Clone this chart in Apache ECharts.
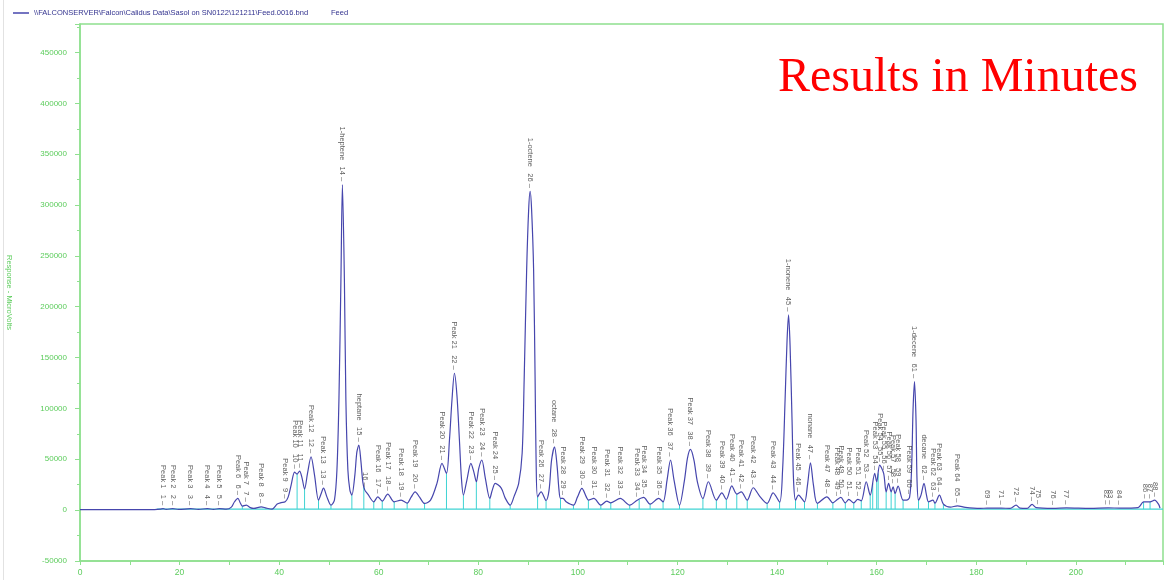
<!DOCTYPE html>
<html>
<head>
<meta charset="utf-8">
<style>
  html, body { margin: 0; padding: 0; background: #fff; }
  #chart { width: 1167px; height: 580px; }
</style>
</head>
<body>
<div id="chart"></div>
<script src="https://cdn.jsdelivr.net/npm/echarts@6.0.0/dist/echarts.min.js"></script>
<script>
const traceName = '\\\\FALCONSERVER\\Falcon\\Calidus Data\\Sasol on SN0122\\121211\\Feed.0016.bnd'
const sampleName = 'Feed'
const chartTitle = 'Results in Minutes'
const yAxisName = 'Response - MicroVolts'

// detector trace (minutes, microvolts)
const traceTimes = [
  0, 14.1, 16.1, 16.7, 17.3, 18.6, 19.8, 22.2, 23.8, 25.6,
  26.8, 28.0, 29.4, 30.4, 31.0, 31.7, 32.2, 32.6, 33.4, 34.2,
  34.9, 36.4, 37.4, 38.6, 39.6, 40.4, 41.2, 41.8, 42.4, 43.1,
  43.6, 44.1, 44.6, 45.1, 45.7, 46.4, 47.1, 47.9, 48.4, 48.9,
  49.6, 50.4, 51.1, 51.6, 52.0, 52.4, 52.7, 53.1, 53.4, 53.8,
  54.2, 54.6, 55.2, 55.6, 56.0, 56.4, 56.8, 57.2, 57.8, 59.0,
  59.8, 60.7, 61.8, 63.1, 64.5, 65.7, 66.5, 67.3, 68.2, 69.2,
  70.4, 71.7, 72.7, 73.6, 74.2, 74.7, 75.2, 75.7, 76.2, 76.6,
  77.0, 77.7, 78.5, 79.1, 79.6, 80.1, 80.7, 81.4, 82.3, 82.8,
  83.4, 84.6, 85.4, 86.4, 87.2, 88.1, 88.8, 89.2, 89.7, 90.1,
  90.4, 90.7, 91.1, 91.4, 91.6, 91.9, 92.6, 93.6, 94.2, 94.7,
  95.3, 95.8, 96.2, 96.5, 97.0, 97.7, 99.1, 99.9, 100.8, 101.7,
  102.1, 103.2, 104.6, 105.8, 106.6, 108.5, 110.4, 111.9, 113.2, 114.5,
  116.2, 117.1, 117.9, 118.6, 119.3, 120.4, 121.4, 122.0, 122.6, 123.3,
  124.0, 125.1, 126.2, 127.8, 128.9, 129.8, 130.9, 131.9, 132.8, 134.0,
  135.2, 136.6, 138.0, 139.2, 140.5, 141.1, 141.6, 142.0, 142.3, 142.6,
  143.0, 143.3, 143.7, 144.3, 145.5, 146.1, 146.7, 147.3, 148.1, 150.0,
  151.2, 152.1, 152.8, 153.7, 154.4, 155.4, 156.2, 156.9, 157.9, 158.7,
  159.6, 160.0, 160.6, 161.4, 161.9, 162.4, 162.9, 163.3, 163.7, 164.3,
  165.3, 166.0, 166.6, 167.0, 167.3, 167.6, 167.9, 168.1, 168.4, 168.9,
  169.5, 170.0, 170.4, 171.3, 171.7, 172.6, 173.4, 174.8, 176.2, 177.8,
  180.8, 182.2, 185.0, 186.8, 188.0, 188.8, 190.2, 191.2, 192.0, 195.4,
  198.1, 202.9, 206.5, 208.9, 212.5, 213.6, 214.9, 215.8, 216.6, 216.9
]
const traceValues = [
  500, 500, 1000, 1500, 700, 1500, 700, 1500, 800, 1500,
  800, 1500, 1000, 3000, 8000, 11500, 7000, 4000, 5000, 2500,
  1700, 3300, 2000, 1000, 6000, 7400, 8200, 12800, 24600, 37400,
  35500, 38400, 31500, 20700, 36400, 52500, 34500, 9800, 15800, 21700,
  12800, 4900, 9800, 39400, 108000, 226000, 320000, 226000, 108000, 39400,
  19700, 14800, 34500, 57000, 64000, 49000, 27600, 19700, 15800, 8200,
  13100, 8900, 15800, 8200, 9800, 6900, 12800, 18000, 12800, 6600,
  9800, 26600, 46000, 36100, 69000, 108000, 134600, 113000, 69000, 31500,
  14800, 29600, 46000, 37400, 27900, 41400, 49300, 31500, 11500, 19700,
  26300, 21700, 11800, 4900, 13800, 26300, 56100, 128000, 236000, 295000,
  313500, 295000, 236000, 128000, 49000, 13100, 18000, 9500, 19700, 49000,
  62300, 44300, 19700, 11500, 11500, 7900, 4900, 12800, 21400, 12800,
  9800, 11500, 4900, 8900, 7200, 11500, 4900, 9800, 12500, 5900,
  11500, 8200, 29600, 49300, 29600, 4900, 29600, 51200, 59800, 49300,
  27600, 11500, 27900, 9800, 17000, 10500, 23900, 15800, 18000, 9800,
  22000, 13100, 6600, 17000, 7800, 39400, 108000, 167000, 192000, 162500,
  88700, 29600, 9800, 14800, 8200, 24600, 46600, 24600, 6600, 13100,
  7200, 10500, 12500, 7200, 10500, 7200, 10500, 9200, 27900, 14800,
  36100, 27900, 44300, 36100, 18000, 26300, 18000, 23000, 16400, 23600,
  9800, 9800, 12500, 39400, 98500, 126400, 88700, 29600, 9800, 14800,
  26300, 14800, 8200, 9800, 6900, 14800, 5900, 3000, 4200, 2700,
  1700, 2000, 2000, 1700, 4900, 2000, 1700, 5600, 2500, 1700,
  2200, 1700, 2200, 2000, 2500, 8200, 8200, 9800, 5900, 2000
]

// peak annotations
const peakNumbers = [
  1, 2, 3, 4, 5, 6, 7, 8, 9, 10, 11, 12, 13, 14, 15, 16, 17, 18, 19, 20,
  21, 22, 23, 24, 25, 26, 27, 28, 29, 30, 31, 32, 33, 34, 35, 36, 37, 38, 39, 40,
  41, 42, 43, 44, 45, 46, 47, 48, 49, 50, 51, 52, 53, 54, 55, 56, 57, 58, 59, 60,
  61, 62, 63, 64, 65, 69, 71, 72, 74, 75, 76, 77, 82, 83, 84, 86, 87, 88
]
const peakNames = [
  'Peak 1', 'Peak 2', 'Peak 3', 'Peak 4', 'Peak 5', 'Peak 6', 'Peak 7', 'Peak 8', 'Peak 9', 'Peak 10',
  'Peak 11', 'Peak 12', 'Peak 13', '1-heptene', 'heptane', '', 'Peak 16', 'Peak 17', 'Peak 18', 'Peak 19',
  'Peak 20', 'Peak 21', 'Peak 22', 'Peak 23', 'Peak 24', '1-octene', 'Peak 26', 'octane', 'Peak 28', 'Peak 29',
  'Peak 30', 'Peak 31', 'Peak 32', 'Peak 33', 'Peak 34', 'Peak 35', 'Peak 36', 'Peak 37', 'Peak 38', 'Peak 39',
  'Peak 40', 'Peak 41', 'Peak 42', 'Peak 43', '1-nonene', 'Peak 45', 'nonane', 'Peak 47', 'Peak 48', 'Peak 49',
  'Peak 50', 'Peak 51', 'Peak 52', 'Peak 53', 'Peak 54', 'Peak 55', 'Peak 56', 'Peak 57', 'Peak 58', 'Peak 59',
  '1-decene', 'decane', 'Peak 62', 'Peak 63', 'Peak 64', '', '', '', '', '', '', '', '', '', '', '', '', ''
]
const peakTimes = [
  16.7, 18.6, 22.2, 25.6, 28.0, 31.7, 33.4, 36.4, 41.2, 43.1, 44.1, 46.4, 48.9, 52.7, 56.0, 57.2, 59.8, 61.8, 64.5, 67.3,
  72.7, 75.2, 78.5, 80.7, 83.4, 90.4, 92.6, 95.3, 97.0, 100.8, 103.2, 105.8, 108.5, 111.9, 113.2, 116.2, 118.6, 122.6, 126.2, 128.9,
  130.9, 132.8, 135.2, 139.2, 142.3, 144.3, 146.7, 150.0, 152.1, 152.8, 154.4, 156.2, 157.9, 159.6, 160.6, 161.4, 162.4, 163.3, 164.3, 166.6,
  167.6, 169.5, 171.3, 172.6, 176.2, 182.2, 185.0, 188.0, 191.2, 192.4, 195.4, 198.1, 206.1, 206.9, 208.7, 213.9, 214.9, 216.0
]
const peakValues = [
  1500, 1500, 1500, 1500, 1500, 11500, 5000, 3300, 8200, 37400, 38400, 52500, 21700, 320000, 64000, 19700, 13100, 15800, 9800, 18000,
  46000, 134600, 46000, 49300, 26300, 313500, 18000, 62300, 11500, 21400, 11500, 8900, 11500, 9800, 12500, 11500, 49300, 59800, 27900, 17000,
  23900, 18000, 22000, 17000, 192000, 14800, 46600, 13100, 10500, 12500, 10500, 10500, 27900, 36100, 44300, 36100, 26300, 23000, 23600, 12500,
  126400, 26300, 9800, 14800, 4200, 2000, 2000, 4900, 5600, 2500, 1700, 2200, 2200, 2200, 2000, 8200, 8200, 9800
]

// integration drop lines and baseline
const dropTimes = [
  32.6, 34.9, 38.6, 43.6, 45.1, 47.9, 50.4, 54.6, 57.0, 59.0, 60.7, 63.1, 65.7, 69.2,
  73.6, 77.0, 79.6, 82.3, 86.4, 91.9, 93.6, 96.5, 99.1, 102.1, 104.6, 106.6, 110.4, 112.3,
  114.5, 117.1, 120.4, 125.1, 127.8, 129.8, 131.9, 134.0, 138.0, 140.5, 143.7, 145.5, 148.1,
  151.2, 153.7, 155.4, 156.9, 158.7, 159.2, 160.0, 160.3, 161.9, 162.9, 163.7, 165.3, 168.4,
  170.4, 171.7, 173.4, 213.6, 214.9
]
const dropValues = [
  4000, 1700, 1000, 35500, 20700, 9800, 4900, 14800, 23000, 8200, 8900, 8200, 6900, 6600,
  36100, 14800, 27900, 11500, 4900, 13100, 9500, 11500, 4900, 9800, 4900, 7200, 4900, 10500,
  5900, 8200, 4900, 11500, 9800, 10500, 15800, 9800, 6600, 7800, 9800, 8200, 6600,
  7200, 7200, 7200, 9200, 14800, 26000, 27900, 36000, 18000, 18000, 16400, 9800, 9800,
  8200, 6900, 5900, 8200, 8200
]
const baselineLevel = 1000
const baselineTimes = [15.4, 217.5]

const green = '#8fe08f'
const labelGreen = '#5ccc5c'

const chart = echarts.init(document.getElementById('chart'))

chart.setOption({
  animation: false,
  backgroundColor: '#fff',
  textStyle: { fontFamily: 'Liberation Sans, Arial, sans-serif' },
  legend: {
    data: [traceName],
    left: 13, top: 9, padding: 0,
    icon: 'rect', itemWidth: 16, itemHeight: 1.5, itemGap: 5,
    textStyle: { fontSize: 7.5, color: '#33338f' },
    formatter: name => name + '           ' + sampleName,
  },
  graphic: [
    {
      type: 'text', left: 778, top: 54,
      style: { text: chartTitle, fill: '#ff0000', font: '48px "Liberation Serif", "Times New Roman", serif' },
    },
    {
      type: 'line', shape: { x1: 3.5, y1: 0, x2: 3.5, y2: 580 },
      style: { stroke: '#e2e2e2', lineWidth: 1 },
    },
  ],
  grid: {
    left: 80, right: 4, top: 24, bottom: 19,
    outerBoundsMode: 'none', containLabel: false,
    show: true, borderColor: green, borderWidth: 1.5, backgroundColor: 'transparent',
  },
  xAxis: {
    type: 'value', min: 0, max: 217.5, interval: 10,
    axisLine: { onZero: false, lineStyle: { color: green, width: 1.5 } },
    axisTick: { show: true, length: 4, lineStyle: { color: green } },
    axisLabel: {
      color: labelGreen, fontSize: 8.5, margin: 7,
      formatter: v => (v % 20 === 0 ? String(v) : ''),
    },
    splitLine: { show: false },
  },
  yAxis: {
    type: 'value', min: -50000, max: 478000, interval: 50000,
    name: yAxisName, nameLocation: 'middle', nameRotate: -90, nameGap: 67,
    nameTextStyle: { color: labelGreen, fontSize: 7.5 },
    axisLine: { show: true, lineStyle: { color: green, width: 1.5 } },
    axisTick: { show: true, length: 5, lineStyle: { color: green } },
    minorTick: { show: true, splitNumber: 2, length: 3, lineStyle: { color: green } },
    axisLabel: {
      color: labelGreen, fontSize: 8, margin: 13,
      formatter: v => (v % 50000 === 0 ? String(v) : ''),
    },
    splitLine: { show: false },
  },
  series: [
    {
      name: 'baseline', type: 'line', silent: true,
      data: baselineTimes.map(t => [t, baselineLevel]),
      symbol: 'none', lineStyle: { color: '#3fd3d3', width: 1.2 }, z: 1,
    },
    {
      name: 'drops', type: 'custom', silent: true, z: 1,
      data: dropTimes.map((t, i) => [t, dropValues[i]]),
      renderItem: (params, api) => {
        const top = api.coord([api.value(0), api.value(1)])
        const base = api.coord([api.value(0), baselineLevel])
        return {
          type: 'line',
          shape: { x1: top[0], y1: top[1], x2: base[0], y2: base[1] },
          style: { stroke: '#3fd3d3', lineWidth: 1 },
        }
      },
    },
    {
      name: traceName, type: 'line',
      data: traceTimes.map((t, i) => [t, traceValues[i]]),
      symbol: 'none', smooth: 0.3,
      lineStyle: { color: '#4646ad', width: 1.2 },
      itemStyle: { color: '#4646ad' },
      z: 3,
    },
    {
      name: 'peaks', type: 'scatter', silent: true, z: 4,
      data: peakTimes.map((t, i) => [t, peakValues[i]]),
      symbolSize: 1, itemStyle: { color: 'rgba(0,0,0,0)' },
      label: {
        show: true, position: 'top', distance: 3,
        rotate: -90, align: 'right', verticalAlign: 'middle',
        fontSize: 7.5, color: '#333',
        formatter: p => {
          const name = peakNames[p.dataIndex]
          return (name ? name + '   ' : '') + peakNumbers[p.dataIndex] + ' \u2013'
        },
      },
      labelLayout: { hideOverlap: false },
    },
  ],
})
</script>
</body>
</html>
